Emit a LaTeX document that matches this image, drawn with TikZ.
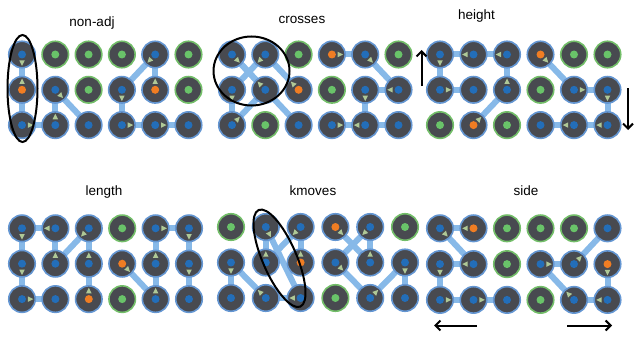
\documentclass[tikz,border=0pt]{standalone}
\usepackage{fontspec}
\setmainfont{Liberation Sans}
\usetikzlibrary{calc,shapes.geometric,arrows.meta}
\pgfdeclarelayer{bg}
\pgfsetlayers{bg,main}
\definecolor{ballgray}{RGB}{72,74,80}
\definecolor{ringblue}{RGB}{100,150,210}
\definecolor{ringgreen}{RGB}{115,190,105}
\definecolor{dotblue}{RGB}{35,110,185}
\definecolor{dotgreen}{RGB}{105,195,105}
\definecolor{dotorange}{RGB}{240,125,35}
\definecolor{linkblue}{RGB}{135,185,232}
\definecolor{tricol}{RGB}{175,200,150}
\tikzset{
 ballbase/.style={circle, inner sep=0pt, minimum size=26.5pt, fill=ballgray, line width=1.6pt},
 xb/.style={ballbase, draw=ringblue, path picture={\fill[dotblue] (path picture bounding box.center) circle[radius=4pt];}},
 xg/.style={ballbase, draw=ringgreen, path picture={\fill[dotgreen] (path picture bounding box.center) circle[radius=4pt];}},
 xo/.style={ballbase, draw=ringblue, path picture={\fill[dotorange] (path picture bounding box.center) circle[radius=4pt];}},
 link/.style={draw=linkblue, line width=6pt},
 tri/.style={isosceles triangle, isosceles triangle stretches, minimum width=5.5pt, minimum height=5.5pt, inner sep=0pt, fill=tricol},
 title/.style={font=\fontsize{13.5}{16}\selectfont, anchor=base, inner sep=0pt},
 oval/.style={draw=black, line width=2pt},
 dirarrow/.style={draw=black, line width=2pt, -{Straight Barb[length=5pt,width=10pt]}}
}
\newcommand\panel[6]{\foreach \cc/\rr/\kk in {#6}{\node[\kk] (#1\cc\rr) at ({#2+(\cc-1)*#3},{#4+(\rr-1)*#5}) {};}}
\newcommand\mv[2]{%
 \begin{pgfonlayer}{bg}\path[link] (#1.center) -- (#2.center);\end{pgfonlayer}%
 \path (#1.center) -- ($(#1.center)!7.5pt!(#2.center)$) node[tri, pos=1, sloped, allow upside down]{};}
\newcommand\moves[1]{\foreach \aa/\bb in {#1}{\mv{\aa}{\bb}}}
\begin{document}
\begin{tikzpicture}[x=1pt,y=-1pt]
\useasboundingbox (0,0) rectangle (634,337);
% panels
\panel{A}{22}{33.3}{54.5}{35.3}{1/1/xb,2/1/xg,3/1/xg,4/1/xg,5/1/xb,6/1/xg,
 1/2/xo,2/2/xb,3/2/xg,4/2/xb,5/2/xo,6/2/xg,
 1/3/xb,2/3/xb,3/3/xb,4/3/xb,5/3/xb,6/3/xb}
\panel{B}{232}{33.3}{54.5}{35.3}{1/1/xb,2/1/xb,3/1/xg,4/1/xo,5/1/xb,6/1/xg,
 1/2/xb,2/2/xb,3/2/xo,4/2/xg,5/2/xb,6/2/xb,
 1/3/xb,2/3/xg,3/3/xb,4/3/xb,5/3/xb,6/3/xb}
\panel{C}{440}{33.5}{54.5}{35.3}{1/1/xb,2/1/xb,3/1/xb,4/1/xo,5/1/xg,6/1/xg,
 1/2/xb,2/2/xb,3/2/xb,4/2/xg,5/2/xb,6/2/xb,
 1/3/xg,2/3/xo,3/3/xg,4/3/xb,5/3/xb,6/3/xb}
\panel{D}{22}{33.4}{228.3}{35.4}{1/1/xb,2/1/xb,3/1/xb,4/1/xg,5/1/xb,6/1/xb,
 1/2/xb,2/2/xb,3/2/xb,4/2/xo,5/2/xb,6/2/xb,
 1/3/xb,2/3/xb,3/3/xo,4/3/xg,5/3/xb,6/3/xb}
\panel{E}{231}{34.8}{227}{35.5}{1/1/xg,2/1/xb,3/1/xb,4/1/xo,5/1/xb,6/1/xg,
 1/2/xb,2/2/xb,3/2/xo,4/2/xb,5/2/xb,6/2/xb,
 1/3/xb,2/3/xb,3/3/xb,4/3/xg,5/3/xb,6/3/xb}
\panel{F}{440}{33.5}{228.3}{35.8}{1/1/xb,2/1/xo,3/1/xg,4/1/xg,5/1/xg,6/1/xb,
 1/2/xb,2/2/xb,3/2/xg,4/2/xb,5/2/xb,6/2/xo,
 1/3/xb,2/3/xb,3/3/xb,4/3/xg,5/3/xb,6/3/xb}
% moves
\moves{A12/A11,A11/A13,A13/A23,A23/A22,A22/A33,A52/A51,A51/A42,A42/A43,A43/A53,A53/A63}
\moves{B32/B21,B21/B12,B12/B13,B13/B22,B22/B11,B11/B33,B41/B51,B51/B62,B62/B52,B52/B53,B53/B43,B43/B63}
\moves{C23/C32,C32/C31,C31/C21,C21/C11,C11/C12,C12/C22,C41/C52,C52/C62,C62/C63,C63/C53,C53/C43}
\moves{D33/D32,D32/D31,D31/D22,D22/D21,D21/D11,D11/D12,D12/D13,D13/D23,D42/D53,D53/D52,D52/D51,D51/D61,D61/D62,D62/D63}
\moves{E32/E31,E31/E22,E22/E21,E21/E33,E33/E23,E23/E12,E12/E13,E41/E52,E52/E51,E51/E42,E42/E53,E53/E62,E62/E63}
\moves{F21/F11,F11/F22,F22/F12,F12/F13,F13/F23,F23/F33,F62/F63,F63/F53,F53/F42,F42/F52,F52/F61}
% titles
\node[title] (tA) at (92,26.5) {non-adj};
\node[title] (tB) at (302,24) {crosses};
\node[title] (tC) at (476.5,19.5) {height};
\node[title] (tD) at (104,195) {length};
\node[title] (tE) at (313,195) {kmoves};
\node[title] (tF) at (526,195) {side};
% ellipses
\draw[oval] (22.5,88.5) ellipse[x radius=15, y radius=53.5];
\draw[oval] (251.5,71) ellipse[x radius=38, y radius=34.5];
\draw[oval, rotate around={23.3:(279.5,258.3)}] (279.5,258.3) ellipse[x radius=17, y radius=52.6];
% direction arrows
\coordinate (hu1) at (421.5,86); \coordinate (hu2) at (421.5,50);
\coordinate (hd1) at (628,88); \coordinate (hd2) at (628,130);
\coordinate (sl1) at (477,325.5); \coordinate (sl2) at (434,325.5);
\coordinate (sr1) at (567,325.5); \coordinate (sr2) at (612,325.5);
\draw[dirarrow] (hu1) -- (hu2);
\draw[dirarrow] (hd1) -- (hd2);
\draw[dirarrow] (sl1) -- (sl2);
\draw[dirarrow] (sr1) -- (sr2);
\end{tikzpicture}
\end{document}
